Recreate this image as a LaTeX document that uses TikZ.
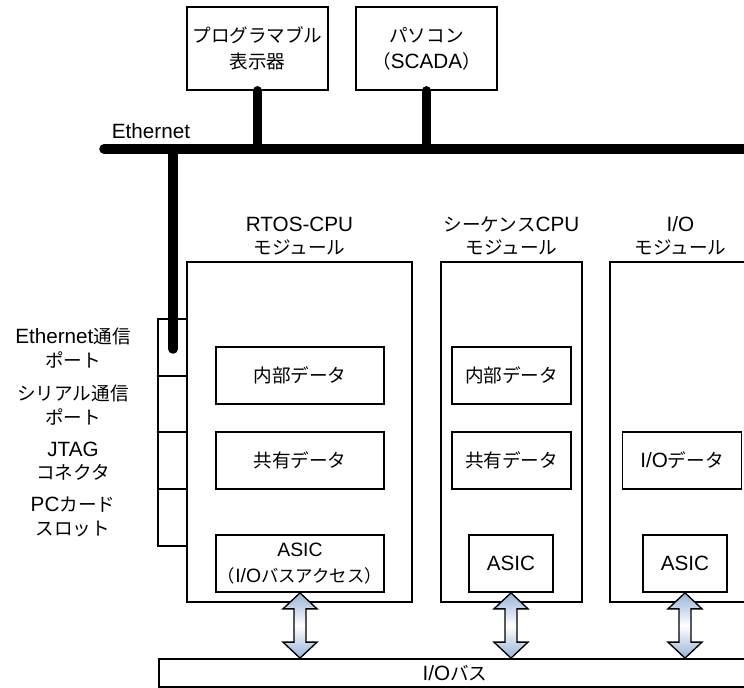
\documentclass[tikz,border=0pt]{standalone}
\usepackage{fontspec}
\setmainfont{Liberation Sans}
\newfontfamily\jp[Scale=0.9]{Noto Sans CJK JP}
\usetikzlibrary{positioning,calc}
\definecolor{arrowblue}{RGB}{150,178,215}

% double arrow between a module ASIC and the I/O bus
\newcommand\ioarrow[2]{%
	\path[busarr] (#1.south) -- ++(17,16) -- ++(-11,0) -- ($(#1.south |- #2.north)+(6,-16)$) -- ++(11,0) -- (#1.south |- #2.north) -- ++(-17,-16) -- ++(11,0) -- ($(#1.south)+(-6,16)$) -- ++(-11,0) -- cycle;}

\begin{document}
\begin{tikzpicture}[x=0.75pt, y=-0.75pt,
	every node/.style={font=\fontsize{15.5}{17.5}\selectfont, align=center},
	box/.style={draw, line width=1.3pt, inner sep=0pt, font=\fontsize{15.5}{19.5}\selectfont},
	sz/.style 2 args={minimum width=#1*0.75pt, minimum height=#2*0.75pt},
	ether/.style={line width=7.2pt, line cap=round},
	busarr/.style={draw, line width=1pt, line join=miter, top color=arrowblue, bottom color=arrowblue, middle color=white}]
		\useasboundingbox (0,0) rectangle (744,688);
		\clip (0,0) rectangle (744,688);

		% Ethernet side
		\node(disp)[box, sz={141}{83}] at (257.5,48.5){{\jp プログラマブル}\\{\jp 表示器}};
		\node(pc)[box, sz={141}{83}] at (426.5,48.5){{\jp パソコン}\\{\jp （}SCADA{\jp ）}};
		\coordinate(ethL) at (104,149);
		\coordinate(ethR) at (760,149);
		\coordinate(ethtap) at (173,149);
		\node(ethlab) at (151,131){Ethernet};

		% modules
		\node(rtos)[box, sz={225}{340}] at (299.5,432){};
		\node(seq)[box, sz={141}{340}] at (511.5,432){};
		\node(io)[box, sz={141}{340}] at (680.5,432){};
		\node[above=1pt] at (rtos.north){RTOS-CPU\\{\jp モジュール}};
		\node[above=1pt] at (seq.north){{\jp シーケンス}CPU\\{\jp モジュール}};
		\node[above=1pt] at (io.north){I/O\\{\jp モジュール}};

		\node(rtosint)[box, sz={168}{57}] at (300,375.5){{\jp 内部データ}};
		\node(rtosshr)[box, sz={168}{57}] at (300,460.5){{\jp 共有データ}};
		\node(rtosasic)[box, sz={168}{57}, font=\fontsize{14.5}{19.5}\selectfont] at (300,563.5){ASIC\\{\jp （}I/O{\jp バスアクセス）}};
		\node(seqint)[box, sz={119}{57}] at (511.5,375.5){{\jp 内部データ}};
		\node(seqshr)[box, sz={119}{57}] at (511.5,460.5){{\jp 共有データ}};
		\node(seqasic)[box, sz={84}{57}] at (511,563.5){ASIC};
		\node(iodata)[box, sz={119}{57}] at (682,460.5){I/O{\jp データ}};
		\node(ioasic)[box, sz={84}{57}] at (685,563.5){ASIC};

		% ports
		\node(port1)[box, sz={29}{57}] at (172.5,347.5){};
		\node(port2)[box, sz={29}{57}] at (172.5,404){};
		\node(port3)[box, sz={29}{57}] at (172.5,460.5){};
		\node(port4)[box, sz={29}{57}] at (172.5,517.5){};
		\node(lab1) at (73,348){Ethernet{\jp 通信}\\{\jp ポート}};
		\node(lab2) at (73,405){{\jp シリアル通信}\\{\jp ポート}};
		\node(lab3) at (73,461){JTAG\\{\jp コネクタ}};
		\node(lab4) at (73,517){PC{\jp カード}\\{\jp スロット}};
		\coordinate(ethend) at (173,349);

		% Ethernet lines
		\draw[ether] (ethL) -- (ethR);
		\draw[ether] (disp.south) -- (disp.south |- ethL);
		\draw[ether] (pc.south) -- (pc.south |- ethL);
		\draw[ether] (ethtap) -- (ethend);

		% I/O bus
		\node(iobus)[box, sz={592}{28}] at (455,673){I/O{\jp バス}};
		\ioarrow{rtosasic}{iobus}
		\ioarrow{seqasic}{iobus}
		\ioarrow{ioasic}{iobus}
	\end{tikzpicture}
\end{document}
